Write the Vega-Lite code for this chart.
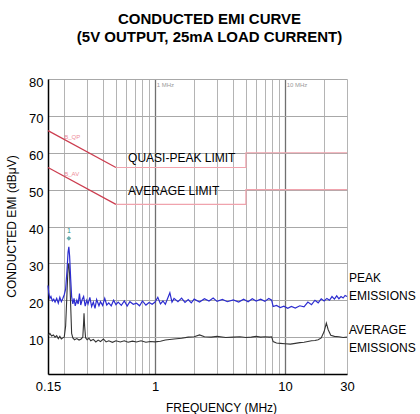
{
  "$schema": "https://vega.github.io/schema/vega-lite/v6.json",
  "autosize": "none",
  "width": 299,
  "height": 295,
  "padding": {"left": 48, "top": 79, "right": 73, "bottom": 40},
  "background": "white",
  "title": {
    "text": ["CONDUCTED EMI CURVE", "(5V OUTPUT, 25mA LOAD CURRENT)"],
    "font": "Liberation Sans",
    "fontSize": 15,
    "fontWeight": "bold",
    "color": "#000",
    "anchor": "middle",
    "frame": "group",
    "dx": 12,
    "lineHeight": 18.5,
    "offset": 31
  },
  "config": {
    "view": {"stroke": null},
    "font": "Liberation Sans",
    "axis": {"domainColor": "#000", "domainWidth": 1.5, "ticks": false, "labelColor": "#000", "titleColor": "#000", "titleFontWeight": "normal"}
  },
  "datasets": {
    "limits": [
      {"f": 0.15, "v": 66, "seg": "qp_s", "part": "slope", "i": 1},
      {"f": 0.5, "v": 56, "seg": "qp_s", "part": "slope", "i": 2},
      {"f": 0.5, "v": 56, "seg": "qp_f", "part": "flat", "i": 3},
      {"f": 5, "v": 56, "seg": "qp_f", "part": "flat", "i": 4},
      {"f": 5, "v": 60, "seg": "qp_f", "part": "flat", "i": 5},
      {"f": 30, "v": 60, "seg": "qp_f", "part": "flat", "i": 6},
      {"f": 0.15, "v": 56, "seg": "av_s", "part": "slope", "i": 7},
      {"f": 0.5, "v": 46, "seg": "av_s", "part": "slope", "i": 8},
      {"f": 0.5, "v": 46, "seg": "av_f", "part": "flat", "i": 9},
      {"f": 5, "v": 46, "seg": "av_f", "part": "flat", "i": 10},
      {"f": 5, "v": 50, "seg": "av_f", "part": "flat", "i": 11},
      {"f": 30, "v": 50, "seg": "av_f", "part": "flat", "i": 12}
    ],
    "peak": [
      {"f": 0.150, "v": 24}, {"f": 0.152, "v": 22}, {"f": 0.155, "v": 20.5}, {"f": 0.158, "v": 21},
      {"f": 0.162, "v": 19.8}, {"f": 0.166, "v": 20.3}, {"f": 0.170, "v": 19.5}, {"f": 0.175, "v": 20.5},
      {"f": 0.180, "v": 19.2}, {"f": 0.185, "v": 20.8}, {"f": 0.190, "v": 19.6}, {"f": 0.195, "v": 20.5},
      {"f": 0.200, "v": 21.5}, {"f": 0.205, "v": 23}, {"f": 0.210, "v": 28}, {"f": 0.214, "v": 33},
      {"f": 0.217, "v": 34.5}, {"f": 0.220, "v": 32}, {"f": 0.224, "v": 26}, {"f": 0.228, "v": 21},
      {"f": 0.233, "v": 19}, {"f": 0.238, "v": 20.5}, {"f": 0.243, "v": 18.5}, {"f": 0.250, "v": 20},
      {"f": 0.256, "v": 19}, {"f": 0.262, "v": 21.8}, {"f": 0.268, "v": 18.7}, {"f": 0.275, "v": 20.2},
      {"f": 0.282, "v": 21}, {"f": 0.290, "v": 18.4}, {"f": 0.298, "v": 20}, {"f": 0.305, "v": 19},
      {"f": 0.315, "v": 20.8}, {"f": 0.325, "v": 18.3}, {"f": 0.335, "v": 19.5}, {"f": 0.345, "v": 17.8},
      {"f": 0.355, "v": 20.2}, {"f": 0.37, "v": 18.5}, {"f": 0.38, "v": 19.6}, {"f": 0.395, "v": 18.6},
      {"f": 0.41, "v": 20.5}, {"f": 0.425, "v": 18.7}, {"f": 0.44, "v": 19.3}, {"f": 0.46, "v": 18.5},
      {"f": 0.48, "v": 20}, {"f": 0.50, "v": 18.8}, {"f": 0.52, "v": 19.5}, {"f": 0.55, "v": 18.6},
      {"f": 0.58, "v": 19.8}, {"f": 0.61, "v": 18.4}, {"f": 0.64, "v": 19.6}, {"f": 0.68, "v": 18.9},
      {"f": 0.72, "v": 19.2}, {"f": 0.76, "v": 18.5}, {"f": 0.80, "v": 19.8}, {"f": 0.85, "v": 18.7},
      {"f": 0.90, "v": 19.4}, {"f": 0.95, "v": 18.9}, {"f": 1.0, "v": 19.5}, {"f": 1.05, "v": 20.8},
      {"f": 1.1, "v": 19}, {"f": 1.15, "v": 19.8}, {"f": 1.2, "v": 18.9}, {"f": 1.3, "v": 22},
      {"f": 1.35, "v": 19.5}, {"f": 1.4, "v": 20.5}, {"f": 1.5, "v": 19.6}, {"f": 1.6, "v": 20.6},
      {"f": 1.7, "v": 19.4}, {"f": 1.8, "v": 20.2}, {"f": 1.9, "v": 19.3}, {"f": 2.0, "v": 20.3},
      {"f": 2.2, "v": 19.5}, {"f": 2.4, "v": 20.4}, {"f": 2.6, "v": 19.8}, {"f": 2.8, "v": 20.6},
      {"f": 3.0, "v": 19.7}, {"f": 3.3, "v": 20.2}, {"f": 3.6, "v": 19.6}, {"f": 4.0, "v": 20.1},
      {"f": 4.4, "v": 19.5}, {"f": 4.8, "v": 20.3}, {"f": 5.2, "v": 19.6}, {"f": 5.6, "v": 20.4},
      {"f": 6.0, "v": 19.8}, {"f": 6.5, "v": 20.3}, {"f": 7.0, "v": 19.7}, {"f": 7.5, "v": 20.5},
      {"f": 7.9, "v": 20}, {"f": 8.1, "v": 18.3}, {"f": 8.6, "v": 18.6}, {"f": 9.2, "v": 18},
      {"f": 9.8, "v": 18.4}, {"f": 10.5, "v": 17.8}, {"f": 11.2, "v": 18.3}, {"f": 12, "v": 17.9},
      {"f": 13, "v": 18.5}, {"f": 14, "v": 18.2}, {"f": 15, "v": 19.5}, {"f": 16, "v": 18.8},
      {"f": 17, "v": 20}, {"f": 18, "v": 19.3}, {"f": 19, "v": 20.4}, {"f": 20, "v": 19.8},
      {"f": 21, "v": 20.5}, {"f": 22, "v": 20}, {"f": 23, "v": 21}, {"f": 24, "v": 20.3},
      {"f": 25, "v": 21.2}, {"f": 26, "v": 20.4}, {"f": 27, "v": 21}, {"f": 28, "v": 20.6},
      {"f": 29, "v": 21.3}, {"f": 30, "v": 21}
    ],
    "average": [
      {"f": 0.150, "v": 10.5}, {"f": 0.155, "v": 11}, {"f": 0.160, "v": 10.3}, {"f": 0.165, "v": 10.6},
      {"f": 0.170, "v": 10}, {"f": 0.175, "v": 10.4}, {"f": 0.180, "v": 9.6}, {"f": 0.185, "v": 10.2},
      {"f": 0.190, "v": 9.5}, {"f": 0.195, "v": 9.8}, {"f": 0.200, "v": 10}, {"f": 0.205, "v": 13},
      {"f": 0.210, "v": 22}, {"f": 0.214, "v": 29}, {"f": 0.217, "v": 30}, {"f": 0.220, "v": 27},
      {"f": 0.224, "v": 19}, {"f": 0.228, "v": 11}, {"f": 0.233, "v": 9.8}, {"f": 0.24, "v": 9.3},
      {"f": 0.25, "v": 9.6}, {"f": 0.26, "v": 9.2}, {"f": 0.27, "v": 9.5}, {"f": 0.278, "v": 10},
      {"f": 0.282, "v": 14}, {"f": 0.284, "v": 16.5}, {"f": 0.287, "v": 13}, {"f": 0.292, "v": 9.8},
      {"f": 0.30, "v": 9.3}, {"f": 0.31, "v": 9.7}, {"f": 0.32, "v": 9}, {"f": 0.335, "v": 9.4},
      {"f": 0.35, "v": 8.7}, {"f": 0.365, "v": 9.2}, {"f": 0.38, "v": 8.8}, {"f": 0.40, "v": 9.5},
      {"f": 0.42, "v": 8.7}, {"f": 0.44, "v": 9}, {"f": 0.47, "v": 8.6}, {"f": 0.50, "v": 9},
      {"f": 0.54, "v": 8.7}, {"f": 0.58, "v": 9}, {"f": 0.62, "v": 8.6}, {"f": 0.67, "v": 8.9},
      {"f": 0.72, "v": 8.7}, {"f": 0.78, "v": 9}, {"f": 0.85, "v": 8.6}, {"f": 0.92, "v": 8.8},
      {"f": 1.0, "v": 8.7}, {"f": 1.1, "v": 8.9}, {"f": 1.2, "v": 9.2}, {"f": 1.4, "v": 9.5},
      {"f": 1.6, "v": 9.7}, {"f": 1.8, "v": 10}, {"f": 2.0, "v": 10.1}, {"f": 2.2, "v": 10.6},
      {"f": 2.4, "v": 10.1}, {"f": 2.7, "v": 10}, {"f": 3.0, "v": 10.2}, {"f": 3.5, "v": 9.9},
      {"f": 4.0, "v": 10}, {"f": 4.5, "v": 10.1}, {"f": 5.0, "v": 9.9}, {"f": 5.5, "v": 10},
      {"f": 6.0, "v": 10.2}, {"f": 6.5, "v": 10}, {"f": 7.0, "v": 10.1}, {"f": 7.6, "v": 10},
      {"f": 7.9, "v": 10.1}, {"f": 8.1, "v": 8.8}, {"f": 8.6, "v": 8.4}, {"f": 9.2, "v": 8.3},
      {"f": 10, "v": 8.2}, {"f": 11, "v": 8.1}, {"f": 12, "v": 8.3}, {"f": 13, "v": 8.5},
      {"f": 14, "v": 8.6}, {"f": 15, "v": 8.8}, {"f": 16, "v": 9}, {"f": 17, "v": 9.1},
      {"f": 18, "v": 9.3}, {"f": 19, "v": 9.8}, {"f": 20, "v": 11.5}, {"f": 20.8, "v": 13.8},
      {"f": 21.5, "v": 12}, {"f": 22.5, "v": 10.5}, {"f": 24, "v": 10.2}, {"f": 26, "v": 10.1},
      {"f": 28, "v": 9.9}, {"f": 30, "v": 10}
    ],
    "labels": [
      {"f": 0.62, "v": 58.5, "t": "QUASI-PEAK LIMIT", "k": "in"},
      {"f": 0.62, "v": 49.6, "t": "AVERAGE LIMIT", "k": "in"},
      {"f": 30, "v": 26, "t": "PEAK", "k": "out"},
      {"f": 30, "v": 21.1, "t": "EMISSIONS", "k": "out"},
      {"f": 30, "v": 11.9, "t": "AVERAGE", "k": "out"},
      {"f": 30, "v": 7.0, "t": "EMISSIONS", "k": "out"}
    ],
    "smallgray": [
      {"f": 1.03, "v": 78.3, "t": "1 MHz"},
      {"f": 10.3, "v": 78.3, "t": "10 MHz"}
    ],
    "smallpink": [
      {"f": 0.2, "v": 64.3, "t": "B_QP"},
      {"f": 0.2, "v": 54.3, "t": "B_AV"}
    ],
    "marker": [{"f": 0.217, "v": 36.8, "t": "1"}]
  },
  "encoding": {
    "x": {
      "field": "f", "type": "quantitative",
      "scale": {"type": "log", "domain": [0.15, 30], "nice": false},
      "axis": {
        "values": [0.15, 0.2, 0.3, 0.4, 0.5, 0.6, 0.7, 0.8, 0.9, 1, 2, 3, 4, 5, 6, 7, 8, 9, 10, 20, 30],
        "labelExpr": "datum.value == 0.15 ? '0.15' : datum.value == 1 ? '1' : datum.value == 10 ? '10' : datum.value == 30 ? '30' : ''",
        "labelFontSize": 13,
        "labelPadding": 6,
        "labelFlush": false,
        "labelOverlap": false,
        "grid": true,
        "gridColor": {"condition": {"test": "datum.value == 1 || datum.value == 10", "value": "#707070"}, "value": "#b4b4b4"},
        "gridWidth": {"condition": {"test": "datum.value == 1 || datum.value == 10", "value": 1.3}, "value": 1},
        "title": "FREQUENCY (MHz)",
        "titleFontSize": 12,
        "titleX": 173,
        "titleY": 33,
        "titleBaseline": "middle",
        "titleAlign": "center"
      }
    },
    "y": {
      "field": "v", "type": "quantitative",
      "scale": {"domain": [0, 80], "nice": false},
      "axis": {
        "values": [0, 10, 20, 30, 40, 50, 60, 70, 80],
        "labelExpr": "datum.value == 0 ? '' : datum.label",
        "labelFontSize": 13,
        "labelPadding": 5,
        "labelOffset": 3,
        "grid": true,
        "gridColor": "#a8a8a8",
        "title": "CONDUCTED EMI (dBμV)",
        "titleFontSize": 12,
        "titleAngle": 270,
        "titleX": -37,
        "titleY": 147,
        "titleAlign": "center",
        "titleBaseline": "middle"
      }
    }
  },
  "layer": [
    {
      "data": {"name": "limits"},
      "mark": {"type": "line", "strokeWidth": 1.2},
      "encoding": {
        "detail": {"field": "seg"},
        "order": {"field": "i"},
        "color": {"field": "part", "type": "nominal", "scale": {"domain": ["slope", "flat"], "range": ["#cc3d4f", "#f0a3ad"]}, "legend": null}
      }
    },
    {
      "data": {"name": "average"},
      "mark": {"type": "line", "color": "#333333", "strokeWidth": 1.1}
    },
    {
      "data": {"name": "peak"},
      "mark": {"type": "line", "color": "#2c2cd0", "strokeWidth": 1.2}
    },
    {
      "data": {"name": "marker"},
      "mark": {"type": "point", "shape": "diamond", "filled": true, "color": "#2a8a8a", "size": 22}
    },
    {
      "data": {"name": "marker"},
      "mark": {"type": "text", "color": "#2a8a8a", "fontSize": 7, "dy": -7},
      "encoding": {"text": {"field": "t"}}
    },
    {
      "data": {"name": "smallgray"},
      "mark": {"type": "text", "fontSize": 6, "align": "left", "baseline": "middle", "color": "#9a9a9a"},
      "encoding": {"text": {"field": "t"}}
    },
    {
      "data": {"name": "smallpink"},
      "mark": {"type": "text", "fontSize": 6, "align": "left", "baseline": "middle", "color": "#ee8c99"},
      "encoding": {"text": {"field": "t"}}
    },
    {
      "data": {"name": "labels"},
      "transform": [{"filter": "datum.k == 'in'"}],
      "mark": {"type": "text", "fontSize": 12, "align": "left", "baseline": "middle", "color": "#000"},
      "encoding": {"text": {"field": "t"}}
    },
    {
      "data": {"name": "labels"},
      "transform": [{"filter": "datum.k == 'out'"}],
      "mark": {"type": "text", "fontSize": 12, "align": "left", "baseline": "middle", "color": "#000", "dx": 2, "clip": false},
      "encoding": {"text": {"field": "t"}}
    },
    {
      "data": {"values": [{"t": "toc43"}]},
      "mark": {"type": "text", "fontSize": 8.5, "align": "right", "baseline": "bottom", "color": "#000", "dy": -2},
      "encoding": {"text": {"field": "t"}, "x": {"datum": 30}, "y": {"datum": 80}}
    },
    {
      "data": {"values": [{}]},
      "mark": {"type": "rule", "color": "#000", "strokeWidth": 1.5},
      "encoding": {"y": {"datum": 80}}
    }
  ]
}
